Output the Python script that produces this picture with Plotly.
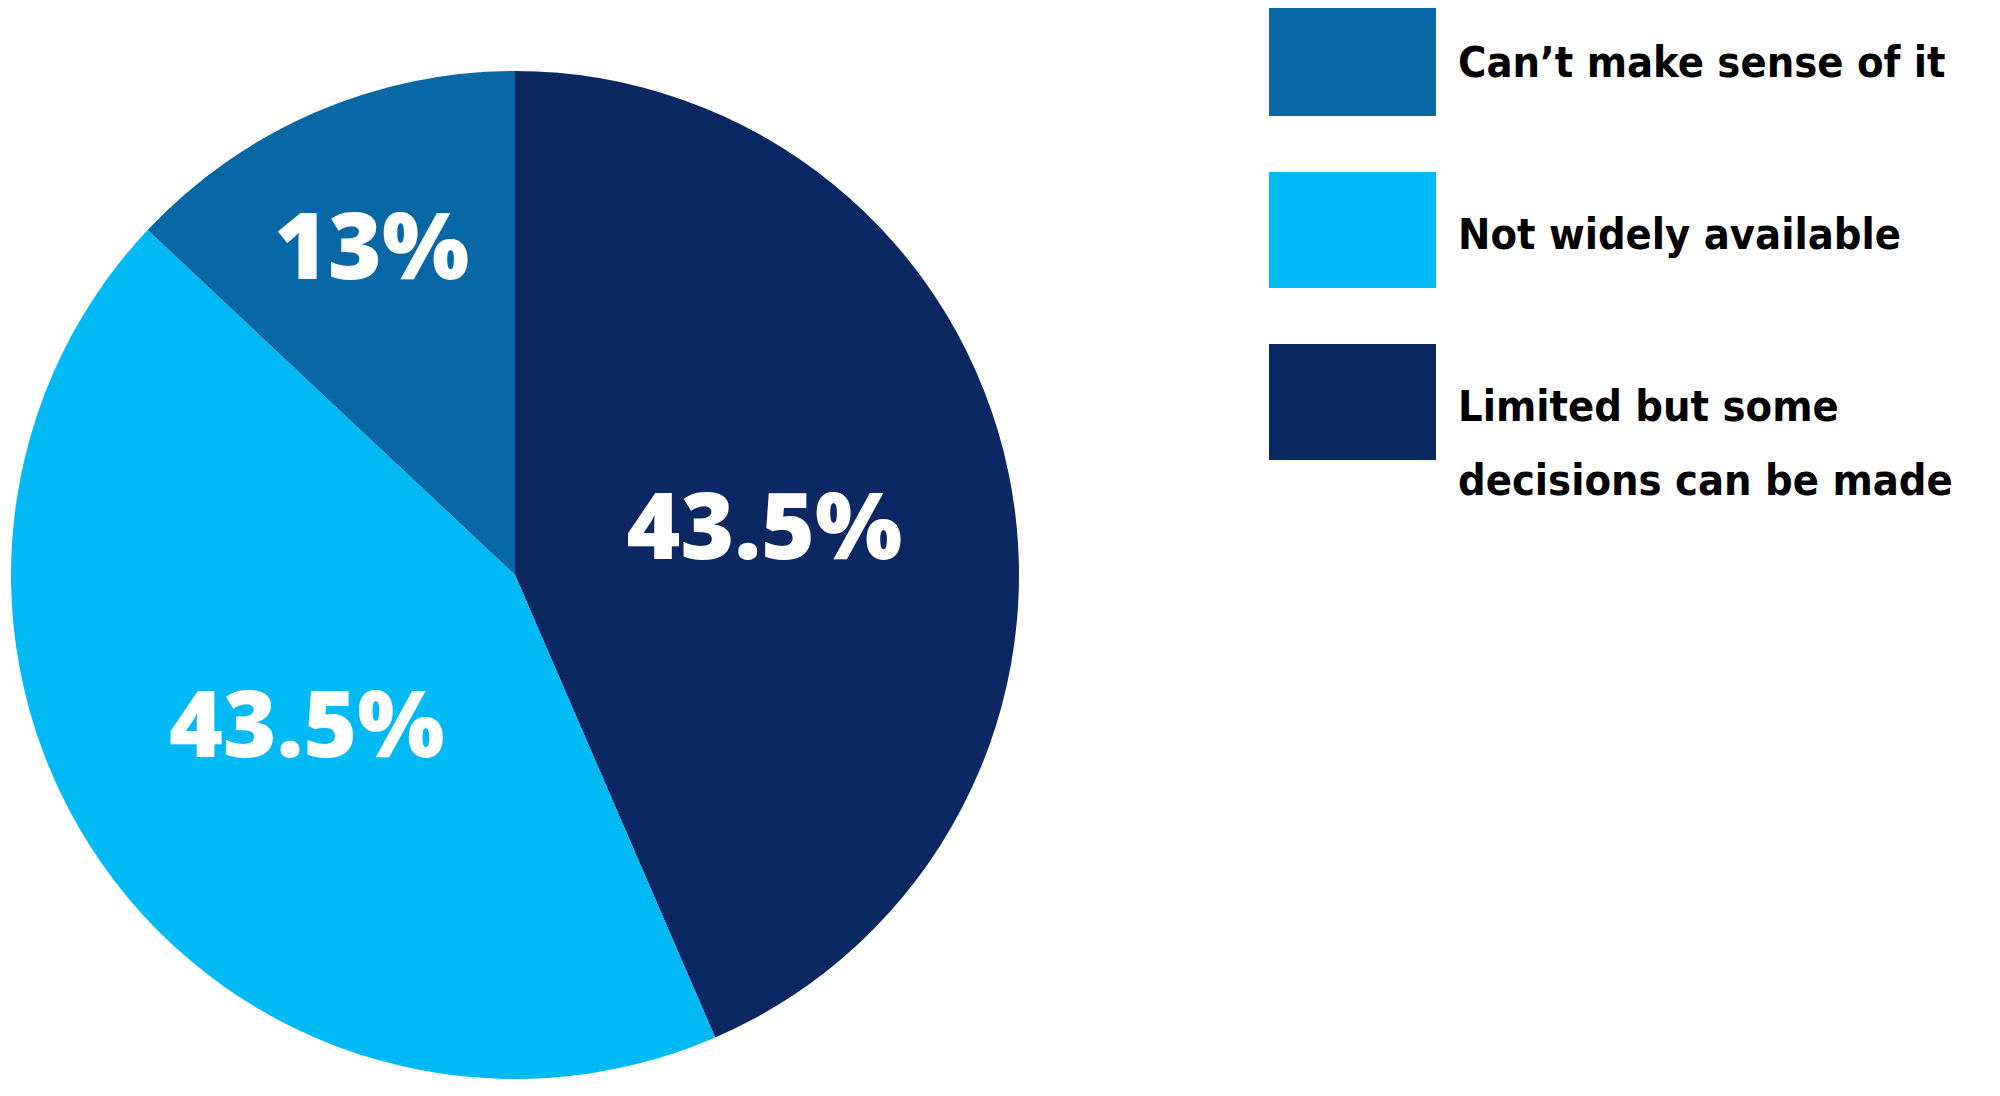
import plotly.graph_objects as go

# datos del grafico (orden horario desde las 12)
labels = ['Limited but some decisions can be made',
          'Not widely available',
          'Can\u2019t make sense of it']
values = [43.5, 43.5, 13]
colors = ['#0B2862', '#00B9F5', '#0868A5']

# leyenda en el orden que se ve a la derecha (una lista de lineas por item)
legend_lines = [['Can\u2019t make sense of it'],
                ['Not widely available'],
                ['Limited but some', 'decisions can be made']]
legend_colors = ['#0868A5', '#00B9F5', '#0B2862']

W, H = 2000, 1096
OFF = 8  # margen del body de la pagina

LEGEND_FONT = dict(family='DejaVu Sans Condensed, Roboto, sans-serif', size=43,
                   color='black', weight='bold')


def px_x(x):
    return (x - OFF) / W


def px_y(y):
    return 1 - (y - OFF) / H


fig = go.Figure(go.Pie(
    labels=labels,
    values=values,
    marker=dict(colors=colors, line=dict(width=0)),
    sort=False,
    direction='clockwise',
    rotation=0,
    textinfo='percent',
    textposition='inside',
    insidetextorientation='horizontal',
    textfont=dict(family='Open Sans', size=92, color='white', weight=800),
    showlegend=False,
    hoverinfo='label+percent',
    domain=dict(x=[px_x(11), px_x(1019)], y=[px_y(1079), px_y(71)]),
))

# leyenda hecha a mano: cuadros grandes + texto
sw_x0, sw_x1 = 1269, 1436
sw_top = [0, 172, 344]
sw_h = 116
line_gap = 74
text_x = 1456
shapes = []
annotations = []
for top, lines, col in zip(sw_top, legend_lines, legend_colors):
    shapes.append(dict(type='rect', xref='paper', yref='paper',
                       x0=px_x(sw_x0), x1=px_x(sw_x1),
                       y0=px_y(top + sw_h), y1=min(1, px_y(top)),
                       fillcolor=col, line=dict(width=0)))
    for j, ln in enumerate(lines):
        annotations.append(dict(text=ln, xref='paper', yref='paper',
                                x=px_x(text_x), y=px_y(top + 62 + j * line_gap),
                                xanchor='left', yanchor='middle', align='left',
                                showarrow=False, font=LEGEND_FONT))

fig.update_layout(
    width=W, height=H,
    margin=dict(l=0, r=0, t=0, b=0),
    paper_bgcolor='white',
    plot_bgcolor='white',
    shapes=shapes,
    annotations=annotations,
)

fig.write_html('out.html')
